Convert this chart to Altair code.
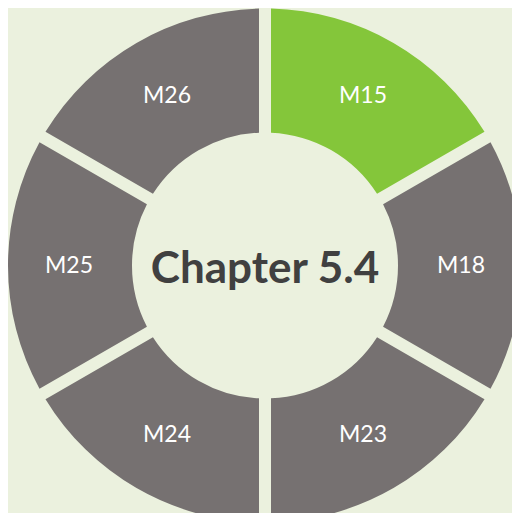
import altair as alt
import pandas as pd

labels = ["M15", "M18", "M23", "M24", "M25", "M26"]
values = [1, 1, 1, 1, 1, 1]
order = [0, 1, 2, 3, 4, 5]
colors = ["#84C63A", "#767171", "#767171", "#767171", "#767171", "#767171"]
center_title = ["Chapter 5.4"]

df = pd.DataFrame({"label": labels, "value": values, "order": order})

base = alt.Chart(df).encode(
    theta=alt.Theta("value:Q", stack=True),
    order=alt.Order("order:Q"),
)

arcs = base.mark_arc(innerRadius=133, outerRadius=257, padAngle=0.0415).encode(
    color=alt.Color("label:N", scale=alt.Scale(domain=labels, range=colors), legend=None)
)

text = base.mark_text(radius=196, fontSize=23, font="Lato", color="white").encode(
    text="label:N"
)

center = alt.Chart(pd.DataFrame({"t": center_title})).mark_text(
    font="Lato", fontWeight="bold", fontSize=44, color="#404040", baseline="middle", align="center"
).encode(text="t:N", x=alt.value(247), y=alt.value(252))

chart = alt.layer(arcs, text, center).properties(
    width=494,
    height=495,
    background="#EBF1DE",
    padding={"left": 10, "top": 10, "right": 0, "bottom": 0},
    autosize=alt.AutoSizeParams(type="none"),
).configure_view(stroke=None)

chart.save("out.html", embed_options={"renderer": "svg", "actions": False})
